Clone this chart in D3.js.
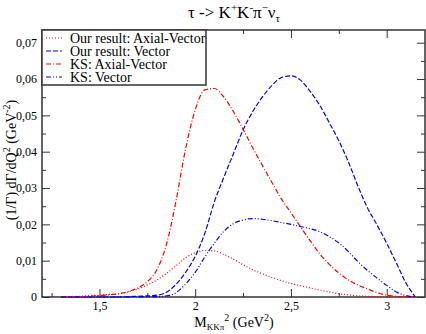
<!DOCTYPE html>
<html>
<head>
<meta charset="utf-8">
<script src="https://cdn.jsdelivr.net/npm/d3@7"></script>
<style>
  body { margin: 0; background: #fff; }
  svg { display: block; font-family: "Liberation Serif", "DejaVu Serif", serif; }
  .axis path, .axis line { stroke: #333; }
</style>
</head>
<body>
<svg></svg>
<script>
// tau -> K+ K- pi- nu spectra

var q2 = [1.30, 1.35, 1.40, 1.45, 1.50, 1.55, 1.60, 1.65, 1.70, 1.75, 1.80, 1.85, 1.90, 1.95,
          2.00, 2.05, 2.10, 2.15, 2.20, 2.25, 2.30, 2.35, 2.40, 2.45, 2.50, 2.55, 2.60, 2.65,
          2.70, 2.75, 2.80, 2.85, 2.90, 2.95, 3.00, 3.05, 3.10, 3.15];

var ourAxial = [0.0001, 0.0001, 0.0002, 0.0004, 0.0005, 0.0007, 0.0009, 0.0014, 0.0022, 0.0033,
                0.0047, 0.0065, 0.0086, 0.0108, 0.0122, 0.0128, 0.0127, 0.0117, 0.0104, 0.0089,
                0.0075, 0.0064, 0.0054, 0.0045, 0.0037, 0.0031, 0.0025, 0.0019, 0.0014, 0.0009,
                0.0006, 0.0003, 0.0002, 0.0001, 0, 0, 0, 0];

var ourVector = [0, 0, 0, 0, 0, 0, 0, 0.0001, 0.0002, 0.0003,
                 0.0005, 0.0013, 0.0035, 0.0068, 0.0112, 0.0175, 0.0262, 0.0330, 0.0395, 0.0460,
                 0.0510, 0.0550, 0.0582, 0.0604, 0.0609, 0.0597, 0.0566, 0.0528, 0.0480, 0.0430,
                 0.0372, 0.0305, 0.0245, 0.0198, 0.0148, 0.0094, 0.0039, 0];

var ksAxial = [0, 0.0001, 0.0001, 0.0002, 0.0004, 0.0006, 0.0009, 0.0015, 0.0025, 0.0042,
               0.0075, 0.0145, 0.0265, 0.0408, 0.0515, 0.0570, 0.0574, 0.0550, 0.0510, 0.0462,
               0.0411, 0.0363, 0.0316, 0.0270, 0.0232, 0.0193, 0.0155, 0.0119, 0.0090, 0.0066,
               0.0047, 0.0033, 0.0022, 0.0012, 0.0005, 0.0002, 0, 0];

var ksVector = [0, 0, 0, 0, 0, 0, 0, 0, 0, 0.0001,
                0.0001, 0.0003, 0.0012, 0.0036, 0.0068, 0.0110, 0.0148, 0.0181, 0.0202, 0.0212,
                0.0216, 0.0214, 0.0210, 0.0205, 0.0200, 0.0194, 0.0188, 0.0180, 0.0166, 0.0149,
                0.0125, 0.0097, 0.0073, 0.0052, 0.0032, 0.0014, 0.0004, 0];

var seriesNames = ['Our result: Axial-Vector', 'Our result: Vector', 'KS: Axial-Vector', 'KS: Vector'];
var seriesValues = [ourAxial, ourVector, ksAxial, ksVector];
var seriesColors = ['#ff0000', '#0000ff', '#ff0000', '#0000ff'];
var seriesDash = ['1,2', '5,2', '5,2,1,2', '5,2,1,2,1,2'];

var xMajor = [1.5, 2, 2.5, 3];
var xMinor = [1.25, 1.75, 2.25, 2.75];
var yMajor = [0, 0.01, 0.02, 0.03, 0.04, 0.05, 0.06, 0.07];

var width = 426;
var height = 334;
var margin = { top: 30, right: 1, bottom: 37, left: 42 };
var innerW = width - margin.left - margin.right;
var innerH = height - margin.top - margin.bottom;

var svg = d3.select('svg')
    .attr('width', width)
    .attr('height', height);

var x = d3.scaleLinear().domain([1.2, 3.2]).range([0, innerW]);
var y = d3.scaleLinear().domain([0, 0.0735]).range([innerH, 0]);

var comma = s => String(s).replace('.', ',');
var g = svg.append('g').attr('transform', `translate(${margin.left},${margin.top})`);

function styleAxis(a) {
  a.attr('font-family', null).attr('font-size', null);
  a.selectAll('text').attr('font-size', 12).attr('fill', '#000');
}

// inward ticks on all four sides
g.append('g').attr('class', 'axis').attr('transform', `translate(0,${innerH})`)
    .call(d3.axisBottom(x).tickValues(xMajor).tickSize(-8).tickPadding(4).tickFormat(comma))
    .call(styleAxis);
g.append('g').attr('class', 'axis').attr('transform', `translate(0,${innerH})`)
    .call(d3.axisBottom(x).tickValues(xMinor).tickSize(-4).tickFormat(''));
g.append('g').attr('class', 'axis')
    .call(d3.axisTop(x).tickValues(xMajor).tickSize(-8).tickFormat(''));
g.append('g').attr('class', 'axis')
    .call(d3.axisTop(x).tickValues(xMinor).tickSize(-4).tickFormat(''));

var yMinor = d3.range(0.005, 0.0735, 0.01);
g.append('g').attr('class', 'axis')
    .call(d3.axisLeft(y).tickValues(yMajor).tickSize(-8).tickPadding(5)
      .tickFormat(d => d === 0 ? '0' : comma(d3.format('.2f')(d))))
    .call(styleAxis);
g.append('g').attr('class', 'axis')
    .call(d3.axisLeft(y).tickValues(yMinor).tickSize(-4).tickFormat(''));
g.append('g').attr('class', 'axis').attr('transform', `translate(${innerW},0)`)
    .call(d3.axisRight(y).tickValues(yMajor).tickSize(-8).tickFormat(''));
g.append('g').attr('class', 'axis').attr('transform', `translate(${innerW},0)`)
    .call(d3.axisRight(y).tickValues(yMinor).tickSize(-4).tickFormat(''));
g.selectAll('.axis path').remove();

g.append('rect')
    .attr('width', innerW).attr('height', innerH)
    .attr('fill', 'none').attr('stroke', '#333').attr('stroke-width', 1.5);

var line = d3.line()
    .x((d, i) => x(q2[i]))
    .y(d => y(d))
    .curve(d3.curveMonotoneX);

g.selectAll('.curve')
    .data(seriesValues)
    .enter()
    .append('path')
      .classed('curve', true)
      .attr('d', line)
      .attr('fill', 'none')
      .attr('stroke', (d, i) => seriesColors[i])
      .attr('stroke-width', 1.2)
      .attr('stroke-dasharray', (d, i) => seriesDash[i]);

// legend
var legend = g.append('g');
legend.append('rect')
    .attr('x', 0).attr('y', 0).attr('width', 164).attr('height', 55)
    .attr('fill', '#fff').attr('stroke', '#333').attr('stroke-width', 1.5);
var rows = legend.selectAll('.row')
    .data(seriesNames)
    .enter()
    .append('g')
      .attr('transform', (d, i) => `translate(0,${8 + i * 13})`);
rows.append('line')
    .attr('x1', 4).attr('x2', 20)
    .attr('stroke', (d, i) => seriesColors[i])
    .attr('stroke-width', 1.2)
    .attr('stroke-dasharray', (d, i) => seriesDash[i]);
rows.append('text')
    .attr('x', 28).attr('y', 4.5)
    .attr('font-size', 14)
    .text(d => d);

// title and axis labels
var title = svg.append('text')
    .attr('x', 234).attr('y', 18)
    .attr('text-anchor', 'middle')
    .attr('font-size', 17);
title.append('tspan').text('τ -> K');
title.append('tspan').attr('font-size', 11).attr('dy', -7).text('+');
title.append('tspan').attr('dy', 7).text('K');
title.append('tspan').attr('font-size', 11).attr('dy', -7).text('-');
title.append('tspan').attr('dy', 7).text('π');
title.append('tspan').attr('font-size', 11).attr('dy', -7).text('−');
title.append('tspan').attr('dy', 7).text('ν');
title.append('tspan').attr('font-size', 11).attr('dy', 4).text('τ');

var xl = svg.append('text')
    .attr('x', 234).attr('y', 327)
    .attr('text-anchor', 'middle')
    .attr('font-size', 14);
xl.append('tspan').text('M');
xl.append('tspan').attr('font-size', 9).attr('dy', 3).text('KKπ');
xl.append('tspan').attr('font-size', 10).attr('dy', -9).text('2');
xl.append('tspan').attr('dy', 6).text(' (GeV');
xl.append('tspan').attr('font-size', 10).attr('dy', -6).text('2');
xl.append('tspan').attr('dy', 6).text(')');

var yl = svg.append('text')
    .attr('transform', 'translate(16,160) rotate(-90)')
    .attr('text-anchor', 'middle')
    .attr('font-size', 14);
yl.append('tspan').text('(1/Γ) dΓ/dQ');
yl.append('tspan').attr('font-size', 10).attr('dy', -6).text('2');
yl.append('tspan').attr('dy', 6).text(' (GeV');
yl.append('tspan').attr('font-size', 10).attr('dy', -6).text('-2');
yl.append('tspan').attr('dy', 6).text(')');
</script>
</body>
</html>
